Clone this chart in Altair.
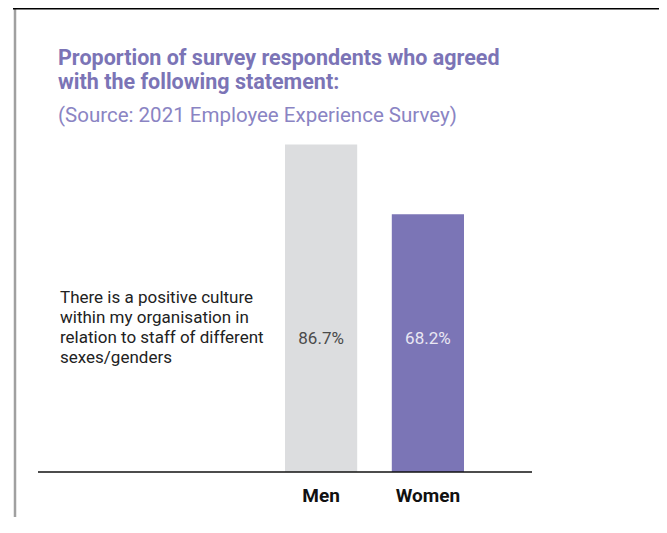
import altair as alt
import pandas as pd

# ---- data ----
categories = ["Men", "Women"]
values = [86.7, 68.2]
value_labels = ["86.7%", "68.2%"]
statement_lines = [
    "There is a positive culture",
    "within my organisation in",
    "relation to staff of different",
    "sexes/genders",
]
title_lines = [
    "Proportion of survey respondents who agreed",
    "with the following statement:",
]
subtitle_text = "(Source: 2021 Employee Experience Survey)"

bar_colors = ["#dcdddf", "#7b75b6"]
label_colors = ["#4a4a4a", "#e9e7f3"]

FONT = "Roboto, Liberation Sans, sans-serif"

df = pd.DataFrame({"group": categories, "value": values, "label": value_labels})
one = pd.DataFrame({"k": [0]})

x_enc = alt.X(
    "group:N",
    sort=categories,
    scale=alt.Scale(domain=categories, range=[247, 426], paddingInner=0.324, paddingOuter=0),
    axis=alt.Axis(
        title=None,
        ticks=False,
        tickSize=0,
        domain=False,
        labelAngle=0,
        labelFont=FONT,
        labelFontSize=19,
        labelFontWeight="bold",
        labelColor="#111111",
        labelBaseline="alphabetic",
        labelPadding=29,
        grid=False,
    ),
)

y_scale = alt.Scale(domain=[0, 90])

bars = alt.Chart(df).mark_bar().encode(
    x=x_enc,
    y=alt.Y("value:Q", scale=y_scale, axis=None),
    color=alt.Color("group:N", scale=alt.Scale(domain=categories, range=bar_colors), legend=None),
)

baseline = alt.Chart(one).mark_rule(color="#111111", strokeWidth=1.5).encode(
    x=alt.value(0), x2=alt.value("width"), y=alt.value("height")
)

labels = alt.Chart(df).mark_text(font=FONT, fontSize=17, baseline="middle", align="center").encode(
    x=x_enc,
    y=alt.value(207),
    text="label:N",
    color=alt.Color("group:N", scale=alt.Scale(domain=categories, range=label_colors), legend=None),
)

statement = alt.Chart(one).mark_text(
    text=statement_lines, font=FONT, fontSize=17, lineHeight=20,
    align="left", baseline="alphabetic", color="#222222",
).encode(x=alt.value(22), y=alt.value(171))

title = alt.Chart(one).mark_text(
    text=title_lines, font=FONT, fontSize=21.5, fontWeight="bold", lineHeight=24,
    align="left", baseline="alphabetic", color="#7b74b6",
).encode(x=alt.value(20), y=alt.value(-67))

subtitle = alt.Chart(one).mark_text(
    text=subtitle_text, font=FONT, fontSize=20.5,
    align="left", baseline="alphabetic", color="#8a84c3",
).encode(x=alt.value(20), y=alt.value(-10))

left_border = alt.Chart(one).mark_rule(color="#a0a0a0", strokeWidth=2.5).encode(
    x=alt.value(-23), y=alt.value(-124), y2=alt.value(390)
)
top_border = alt.Chart(one).mark_rect(color="#000000", width=650, height=1.5).encode(
    x=alt.value(300), y=alt.value(-123.25)
)

chart = (
    alt.layer(bars, baseline, labels, statement, title, subtitle, left_border, top_border)
    .resolve_scale(color="independent")
    .properties(
        width=494,
        height=340,
        autosize=alt.AutoSizeParams(type="none"),
        padding={"left": 30, "top": 124, "right": 127, "bottom": 45},
        background="white",
    )
    .configure_view(strokeWidth=0, stroke="transparent")
)

chart.save("out.html", embed_options={"renderer": "svg", "actions": False})
